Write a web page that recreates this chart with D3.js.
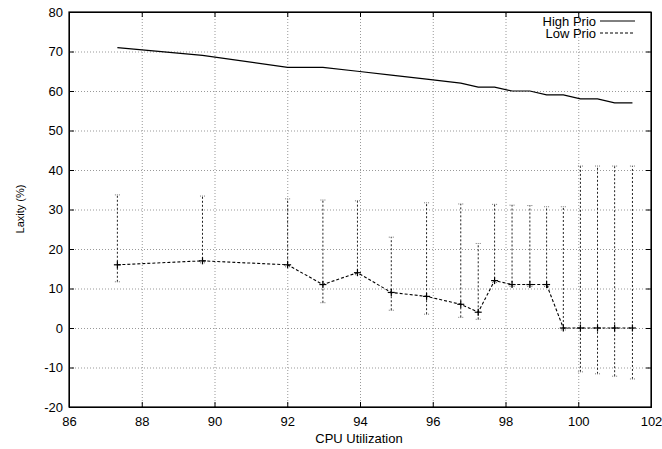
<!DOCTYPE html>
<html>
<head>
<meta charset="utf-8">
<script src="https://cdn.jsdelivr.net/npm/d3@7"></script>
<style>
  body { margin: 0; background: #fff; }
  svg text { font-family: "Liberation Sans", Arial, sans-serif; fill: #000; }
  .tick text { font-size: 13px; }
  .axis-label { font-size: 13px; }
  .grid line { stroke: #999; stroke-dasharray: 1,2; }
  .grid .domain { display: none; }
</style>
</head>
<body>
<svg id="chart" width="662" height="449"></svg>
<script>
// CPU utilization (x) for each run
const cpu = [87.33, 89.67, 92.01, 92.98, 93.93, 94.86, 95.83, 96.77, 97.25,
  97.70, 98.18, 98.67, 99.13, 99.59, 100.06, 100.53, 101.0, 101.49];
const highPrio = [71, 69, 66, 66, 65, 64, 63, 62, 61, 61, 60, 60, 59, 59, 58, 58, 57, 57];
const lowPrio = [16, 17, 16, 11, 14, 9, 8, 6, 4, 12, 11, 11, 11, 0, 0, 0, 0, 0];
const lowMax = [33.7, 33.4, 32.7, 32.4, 32.2, 23, 31.7, 31.4, 21.4, 31.3, 31.1,
  31.0, 30.7, 30.7, 41, 41, 41, 41];
const lowMin = [11.7, 16.5, 15.5, 6.4, 13.5, 4.5, 3.5, 2.7, 2.2, 11.5, 10.5,
  10.5, 10.5, -0.5, -11.1, -11.6, -12.2, -12.9];
const xTicks = [86, 88, 90, 92, 94, 96, 98, 100, 102];
const yTicks = [-20, -10, 0, 10, 20, 30, 40, 50, 60, 70, 80];

const rows = cpu.map((c, i) => ({
  cpu: c, high: highPrio[i], low: lowPrio[i], lo: lowMin[i], hi: lowMax[i]
}));

const svg = d3.select('#chart');
const margin = {top: 12, right: 11, bottom: 42, left: 69};
const width = 662, height = 449;
const innerWidth = width - margin.left - margin.right;
const innerHeight = height - margin.top - margin.bottom;

const xScale = d3.scaleLinear().domain([86, 102]).range([0, innerWidth]);
const yScale = d3.scaleLinear().domain([-20, 80]).range([innerHeight, 0]);
const fmt = d => String(d);

const g = svg.append('g')
  .attr('transform', `translate(${margin.left},${margin.top})`);

// dotted grid
const gridY = g.append('g').attr('class', 'grid')
  .call(d3.axisLeft(yScale).tickValues(yTicks.slice(1, -1)).tickSize(-innerWidth));
const gridX = g.append('g').attr('class', 'grid')
  .attr('transform', `translate(0,${innerHeight})`)
  .call(d3.axisBottom(xScale).tickValues(xTicks.slice(1, -1)).tickSize(-innerHeight));

// axes, ticks point inward and mirror on the other side
const yAxisG = g.append('g')
  .call(d3.axisLeft(yScale).tickValues(yTicks).tickSize(-5).tickPadding(6).tickFormat(fmt));
const xAxisG = g.append('g')
  .attr('transform', `translate(0,${innerHeight})`)
  .call(d3.axisBottom(xScale).tickValues(xTicks).tickSize(-5).tickPadding(10).tickFormat(fmt));
const rightG = g.append('g')
  .attr('transform', `translate(${innerWidth},0)`)
  .call(d3.axisRight(yScale).tickValues(yTicks).tickSize(-5));
const topG = g.append('g')
  .call(d3.axisTop(xScale).tickValues(xTicks).tickSize(-5));
[gridY, gridX, rightG, topG].forEach(a => a.selectAll('text').remove());
g.selectAll('.domain').attr('stroke', '#000');
g.selectAll('.tick line').attr('stroke', '#000');
g.selectAll('g').attr('font-family', null).attr('font-size', null);

g.append('rect')
  .attr('width', innerWidth).attr('height', innerHeight)
  .attr('fill', 'none').attr('stroke', '#000').attr('stroke-width', 1.2);

yAxisG.append('text')
  .attr('class', 'axis-label')
  .attr('transform', 'rotate(-90)')
  .attr('x', -innerHeight / 2 + 0.5)
  .attr('y', -45)
  .attr('text-anchor', 'middle')
  .style('font-size', '11px')
  .text('Laxity (%)');

xAxisG.append('text')
  .attr('class', 'axis-label')
  .attr('x', innerWidth / 2 - 1)
  .attr('y', 36)
  .attr('text-anchor', 'middle')
  .text('CPU Utilization');

// error bars for low prio
const bars = g.append('g').selectAll('g').data(rows).enter().append('g');
bars.append('line')
  .attr('x1', d => xScale(d.cpu)).attr('x2', d => xScale(d.cpu))
  .attr('y1', d => yScale(d.lo)).attr('y2', d => yScale(d.hi))
  .attr('stroke', '#222').attr('stroke-dasharray', '2,2');
['lo', 'hi'].forEach(k => {
  bars.append('line')
    .attr('x1', d => xScale(d.cpu) - 2.5).attr('x2', d => xScale(d.cpu) + 2.5)
    .attr('y1', d => yScale(d[k])).attr('y2', d => yScale(d[k]))
    .attr('stroke', '#777').attr('stroke-dasharray', '1,1');
});

const highLine = d3.line().x(d => xScale(d.cpu)).y(d => yScale(d.high));
const lowLine = d3.line().x(d => xScale(d.cpu)).y(d => yScale(d.low));

g.append('path')
  .attr('d', highLine(rows))
  .attr('fill', 'none').attr('stroke', '#000').attr('stroke-width', 1.2);

g.append('path')
  .attr('d', lowLine(rows))
  .attr('fill', 'none').attr('stroke', '#000').attr('stroke-width', 1.1)
  .attr('stroke-dasharray', '3,2');

// plus markers
const pts = g.append('g').selectAll('g').data(rows).enter().append('g')
  .attr('transform', d => `translate(${xScale(d.cpu)},${yScale(d.low)})`);
pts.append('line').attr('x1', -3.5).attr('x2', 3.5).attr('stroke', '#000').attr('stroke-width', 1.2);
pts.append('line').attr('y1', -3.5).attr('y2', 3.5).attr('stroke', '#000').attr('stroke-width', 1.2);

// legend
const legend = [
  {name: 'High Prio', dash: null},
  {name: 'Low Prio', dash: '3,2'}
];
const lg = g.append('g').attr('transform', `translate(${innerWidth - 55},9)`);
legend.forEach((l, i) => {
  lg.append('text')
    .attr('x', 0).attr('y', i * 12 + 4.5)
    .attr('text-anchor', 'end')
    .style('font-size', '13px')
    .text(l.name);
  lg.append('line')
    .attr('x1', 4).attr('x2', 39)
    .attr('y1', i * 12).attr('y2', i * 12)
    .attr('stroke', '#000')
    .attr('stroke-dasharray', l.dash);
});
</script>
</body>
</html>
